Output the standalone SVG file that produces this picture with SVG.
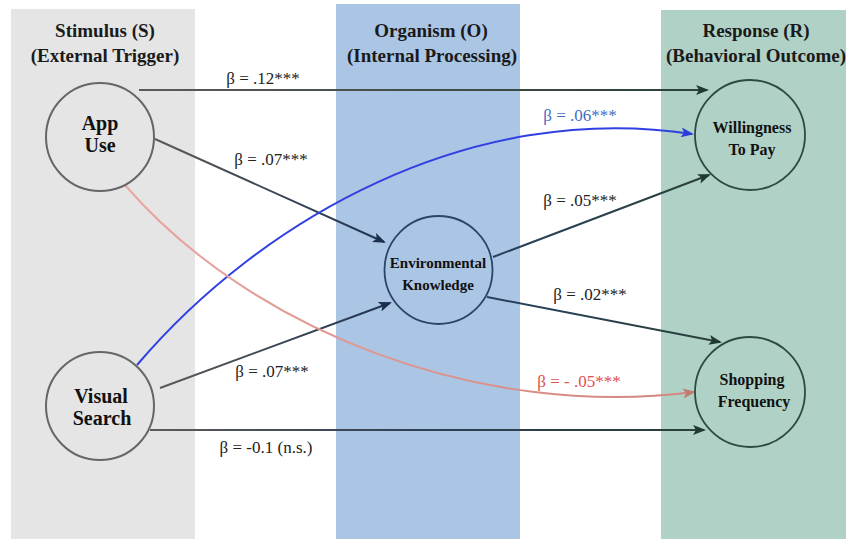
<svg xmlns="http://www.w3.org/2000/svg" width="846" height="539" viewBox="0 0 846 539">
<defs>
<style>
.hdr{font-family:"Liberation Serif","DejaVu Serif",serif;font-weight:bold;font-size:19px;fill:#1a1a1a;text-anchor:middle}
.nt{font-family:"Liberation Serif","DejaVu Serif",serif;font-weight:bold;fill:#111;text-anchor:middle}
.lbl{font-family:"Liberation Serif","DejaVu Serif",serif;font-size:17px;fill:#222;text-anchor:middle}
.edge{fill:none;stroke-width:2}
</style>
<marker id="ahG" viewBox="0 0 13 10" refX="11" refY="5" markerWidth="13" markerHeight="10" markerUnits="userSpaceOnUse" orient="auto"><path d="M0,0 L13,5 L0,10 L3,5 z" fill="#1f3a31"/></marker>
<marker id="ahN" viewBox="0 0 13 10" refX="11" refY="5" markerWidth="13" markerHeight="10" markerUnits="userSpaceOnUse" orient="auto"><path d="M0,0 L13,5 L0,10 L3,5 z" fill="#1b2f4c"/></marker>
<marker id="ahB" viewBox="0 0 13 10" refX="11" refY="5" markerWidth="13" markerHeight="10" markerUnits="userSpaceOnUse" orient="auto"><path d="M0,0 L13,5 L0,10 L3,5 z" fill="#2b3fd8"/></marker>
<marker id="ahR" viewBox="0 0 13 10" refX="11" refY="5" markerWidth="13" markerHeight="10" markerUnits="userSpaceOnUse" orient="auto"><path d="M0,0 L13,5 L0,10 L3,5 z" fill="#c27b72"/></marker>
<linearGradient id="gAW" gradientUnits="userSpaceOnUse" x1="139" y1="90" x2="710" y2="90"><stop offset="0" stop-color="#5a5a5a"/><stop offset="1" stop-color="#2a4038"/></linearGradient>
<linearGradient id="gAE" gradientUnits="userSpaceOnUse" x1="155" y1="139" x2="387" y2="243"><stop offset="0" stop-color="#5a5a5a"/><stop offset="1" stop-color="#1e3350"/></linearGradient>
<linearGradient id="gVE" gradientUnits="userSpaceOnUse" x1="160" y1="388" x2="393" y2="302"><stop offset="0" stop-color="#5a5a5a"/><stop offset="1" stop-color="#1e3350"/></linearGradient>
<linearGradient id="gVS" gradientUnits="userSpaceOnUse" x1="150" y1="430" x2="707" y2="430"><stop offset="0" stop-color="#5a5a5a"/><stop offset="0.5" stop-color="#2f3f55"/><stop offset="1" stop-color="#2a4038"/></linearGradient>
<linearGradient id="gEW" gradientUnits="userSpaceOnUse" x1="493" y1="257" x2="712" y2="174"><stop offset="0" stop-color="#26405e"/><stop offset="1" stop-color="#2a4038"/></linearGradient>
<linearGradient id="gES" gradientUnits="userSpaceOnUse" x1="487" y1="297" x2="723" y2="343"><stop offset="0" stop-color="#26405e"/><stop offset="1" stop-color="#2a4038"/></linearGradient>
<linearGradient id="gR" gradientUnits="userSpaceOnUse" x1="125" y1="185" x2="697" y2="392"><stop offset="0" stop-color="#e9a6a2"/><stop offset="1" stop-color="#d2867e"/></linearGradient>
</defs>

<g id="panels">
<rect x="11" y="9" width="184" height="530" fill="#e5e5e5"/>
<rect x="336" y="4" width="184" height="535" fill="#abc5e5"/>
<rect x="661" y="10" width="185" height="529" fill="#b0d1c6"/>
<text class="hdr" x="105" y="37">Stimulus (S)</text>
<text class="hdr" x="105" y="62">(External Trigger)</text>
<text class="hdr" x="431" y="37">Organism (O)</text>
<text class="hdr" x="432" y="62">(Internal Processing)</text>
<text class="hdr" x="756" y="37">Response (R)</text>
<text class="hdr" x="756" y="62">(Behavioral Outcome)</text>
</g>

<g id="connectors">
<path class="edge" d="M139,90 L707,90" stroke="url(#gAW)" marker-end="url(#ahG)"/>
<path class="edge" d="M155,139 L384,242" stroke="url(#gAE)" marker-end="url(#ahN)"/>
<path class="edge" d="M160,388 L390,303" stroke="url(#gVE)" marker-end="url(#ahN)"/>
<path class="edge" d="M150,430 L704,430" stroke="url(#gVS)" marker-end="url(#ahG)"/>
<path class="edge" d="M493,257 L709,175" stroke="url(#gEW)" marker-end="url(#ahG)"/>
<path class="edge" d="M487,297 L720,342" stroke="url(#gES)" marker-end="url(#ahG)"/>
<path class="edge" d="M137,365 C260,220 470,100 692,134" stroke="#3140e2" marker-end="url(#ahB)"/>
<path class="edge" d="M125,185 C250,330 480,420 694,392" stroke="url(#gR)" marker-end="url(#ahR)"/>
<text class="lbl" x="263" y="84">β = .12***</text>
<text class="lbl" x="271" y="165">β = .07***</text>
<text class="lbl" x="272" y="377">β = .07***</text>
<text class="lbl" x="266" y="453">β = -0.1 (n.s.)</text>
<text class="lbl" x="580" y="121" style="fill:#3f6dc2">β = .06***</text>
<text class="lbl" x="580" y="206">β = .05***</text>
<text class="lbl" x="590" y="300">β = .02***</text>
<text class="lbl" x="579" y="387" style="fill:#e2504e">β = - .05***</text>
</g>

<g id="app-use">
<circle cx="100" cy="137" r="54" fill="#e5e5e5" stroke="#666" stroke-width="2"/>
<text class="nt" x="100" y="130" font-size="20">App</text>
<text class="nt" x="100" y="152" font-size="20">Use</text>
</g>

<g id="visual-search">
<circle cx="100" cy="406" r="54" fill="#e5e5e5" stroke="#666" stroke-width="2"/>
<text class="nt" x="101" y="403" font-size="20">Visual</text>
<text class="nt" x="102" y="425" font-size="20">Search</text>
</g>

<g id="environmental-knowledge">
<circle cx="438.5" cy="270" r="54" fill="#abc5e5" stroke="#2a4666" stroke-width="1.8"/>
<text class="nt" x="438" y="268" font-size="15">Environmental</text>
<text class="nt" x="438" y="290" font-size="15">Knowledge</text>
</g>

<g id="willingness-to-pay">
<circle cx="750" cy="135" r="55" fill="#b0d1c6" stroke="#2d4a40" stroke-width="1.8"/>
<text class="nt" x="752" y="133" font-size="16">Willingness</text>
<text class="nt" x="752" y="155" font-size="16">To Pay</text>
</g>

<g id="shopping-frequency">
<circle cx="750" cy="392" r="55" fill="#b0d1c6" stroke="#2d4a40" stroke-width="1.8"/>
<text class="nt" x="752" y="385" font-size="16">Shopping</text>
<text class="nt" x="754" y="407" font-size="16">Frequency</text>
</g>
</svg>
